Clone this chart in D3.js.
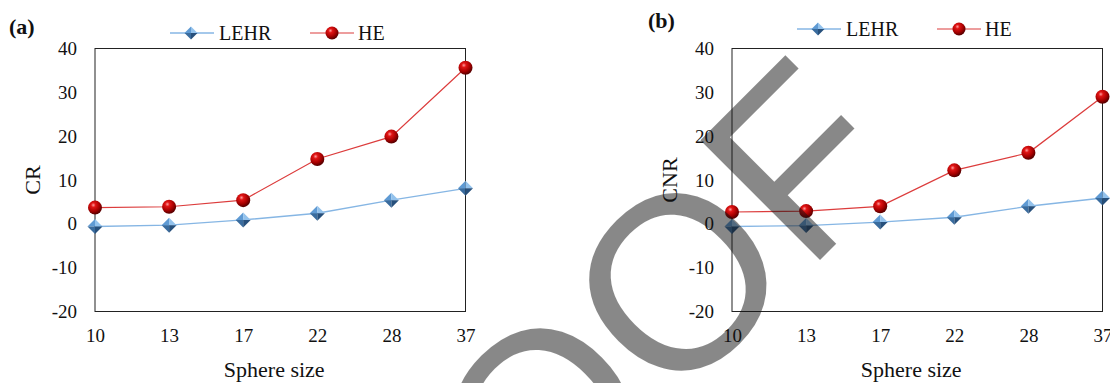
<!DOCTYPE html>
<html>
<head>
<meta charset="utf-8">
<script src="https://cdn.jsdelivr.net/npm/d3@7"></script>
<style>
  html, body { margin: 0; padding: 0; background: #fff; }
  svg { display: block; }
  text { font-family: "Liberation Serif", "Times New Roman", serif; fill: #111; }
</style>
</head>
<body>
<svg id="chart" width="1110" height="383"></svg>
<script>
// 数据
const sphereSizes = ["10", "13", "17", "22", "28", "37"];
const yTicks = [-20, -10, 0, 10, 20, 30, 40];
const crLEHR = [-0.6, -0.3, 0.9, 2.4, 5.4, 8.1];
const crHE = [3.7, 3.9, 5.4, 14.8, 19.9, 35.6];
const cnrLEHR = [-0.6, -0.4, 0.4, 1.5, 4.0, 5.9];
const cnrHE = [2.7, 2.9, 4.0, 12.2, 16.2, 29.0];
const seriesNames = ["LEHR", "HE"];

const svg = d3.select('#chart');
svg.append('rect').attr('width', 1110).attr('height', 383).attr('fill', '#fff');

// 渐变定义
const defs = svg.append('defs');
const ball = defs.append('radialGradient')
    .attr('id', 'ballGrad')
    .attr('cx', '38%').attr('cy', '32%').attr('r', '65%');
ball.append('stop').attr('offset', '0%').attr('stop-color', '#ff9c9c');
ball.append('stop').attr('offset', '25%').attr('stop-color', '#e01414');
ball.append('stop').attr('offset', '70%').attr('stop-color', '#a40000');
ball.append('stop').attr('offset', '100%').attr('stop-color', '#5c0000');

// 菱形标记（四个面）
function drawDiamond(g, x, y, r) {
    const m = g.append('g').attr('transform', `translate(${x},${y})`);
    const faces = [
        { pts: [[0, -r], [0, 0], [-r, 0]], color: '#5f9ad3' },
        { pts: [[0, -r], [r, 0], [0, 0]], color: '#93c2ec' },
        { pts: [[-r, 0], [0, 0], [0, r]], color: '#3a6c9e' },
        { pts: [[0, 0], [r, 0], [0, r]], color: '#27507c' }
    ];
    faces.forEach(f => {
        m.append('path')
            .attr('d', 'M' + f.pts.map(p => p.join(',')).join('L') + 'Z')
            .attr('fill', f.color);
    });
}

function drawBall(g, x, y, r) {
    g.append('circle')
        .attr('cx', x).attr('cy', y).attr('r', r)
        .attr('fill', 'url(#ballGrad)');
}

const LEHR_COLOR = '#86b6e4';
const HE_COLOR = '#dc3c3c';

function styleTicks(sel) {
    sel.attr('font-family', '"Liberation Serif", serif').attr('font-size', 19);
    sel.selectAll('text')
        .style('font-family', '"Liberation Serif", serif')
        .style('font-size', '19px').attr('fill', '#111');
}

function drawPanel(cfg) {
    const { left, right, top, bottom } = cfg;
    const g = svg.append('g');

    const x = d3.scalePoint().domain(sphereSizes).range([left, right]);
    const y = d3.scaleLinear().domain([-20, 40]).range([bottom, top]);

    // 绘图区边框
    g.append('rect')
        .attr('x', left).attr('y', top)
        .attr('width', right - left).attr('height', bottom - top)
        .attr('fill', 'none').attr('stroke', '#222').attr('stroke-width', 1);

    // y 轴刻度（用普通连字符作负号）
    const yAxis = d3.axisLeft(y).tickValues(yTicks).tickSize(0).tickPadding(18)
        .tickFormat(d => String(d));
    const ya = g.append('g').attr('transform', `translate(${left},0)`).call(yAxis);
    ya.select('.domain').remove();
    styleTicks(ya);

    // x 轴刻度
    const xAxis = d3.axisBottom(x).tickSize(0).tickPadding(17);
    const xa = g.append('g').attr('transform', `translate(0,${bottom})`).call(xAxis);
    xa.select('.domain').remove();
    styleTicks(xa);

    // 轴标题
    g.append('text')
        .attr('x', (left + right) / 2 - 6).attr('y', 377)
        .attr('text-anchor', 'middle')
        .style('font-size', '22px')
        .text('Sphere size');

    g.append('text')
        .attr('transform', `translate(${cfg.yTitleX},${(top + bottom) / 2}) rotate(-90)`)
        .attr('text-anchor', 'middle')
        .style('font-size', '22px')
        .text(cfg.yTitle);

    // 面板标签
    g.append('text')
        .attr('x', cfg.tagX).attr('y', cfg.tagY)
        .style('font-size', '22px').style('font-weight', 'bold')
        .text(cfg.tag);

    // 折线
    const line = d3.line().x((d, i) => x(sphereSizes[i])).y(d => y(d));
    g.append('path').datum(cfg.lehr)
        .attr('d', line).attr('fill', 'none')
        .attr('stroke', LEHR_COLOR).attr('stroke-width', 1.4);
    g.append('path').datum(cfg.he)
        .attr('d', line).attr('fill', 'none')
        .attr('stroke', HE_COLOR).attr('stroke-width', 1.2);

    cfg.lehr.forEach((d, i) => drawDiamond(g, x(sphereSizes[i]), y(d), 7.5));
    cfg.he.forEach((d, i) => drawBall(g, x(sphereSizes[i]), y(d), 7));

    // 图例
    const ly = cfg.legendY;
    const lx = cfg.legendX;
    g.append('line').attr('x1', lx).attr('x2', lx + 44).attr('y1', ly).attr('y2', ly)
        .attr('stroke', LEHR_COLOR).attr('stroke-width', 1.4);
    drawDiamond(g, lx + 21, ly, 6.5);
    g.append('text').attr('x', lx + 49).attr('y', ly + 7)
        .style('font-size', '20px').text(seriesNames[0]);

    const hx = lx + 140;
    g.append('line').attr('x1', hx).attr('x2', hx + 44).attr('y1', ly).attr('y2', ly)
        .attr('stroke', HE_COLOR).attr('stroke-width', 1.2);
    drawBall(g, hx + 22, ly, 6.5);
    g.append('text').attr('x', hx + 48).attr('y', ly + 7)
        .style('font-size', '20px').text(seriesNames[1]);
}

drawPanel({
    left: 95, right: 465.5, top: 48.5, bottom: 311.5,
    yTitle: 'CR', yTitleX: 40, tag: '(a)', tagX: 9, tagY: 34,
    legendX: 170, legendY: 33,
    lehr: crLEHR, he: crHE
});

drawPanel({
    left: 732, right: 1102.5, top: 48.5, bottom: 311.5,
    yTitle: 'CNR', yTitleX: 677, tag: '(b)', tagX: 648, tagY: 28,
    legendX: 797, legendY: 29,
    lehr: cnrLEHR, he: cnrHE
});

// 水印
svg.append('text')
    .attr('transform', 'translate(912,168) rotate(-45)')
    .attr('text-anchor', 'end')
    .style('font-family', '"Liberation Sans", Arial, sans-serif')
    .style('font-size', '246px')
    .attr('fill', '#000')
    .attr('fill-opacity', 0.5)
    .text('PROOF');
</script>
</body>
</html>
